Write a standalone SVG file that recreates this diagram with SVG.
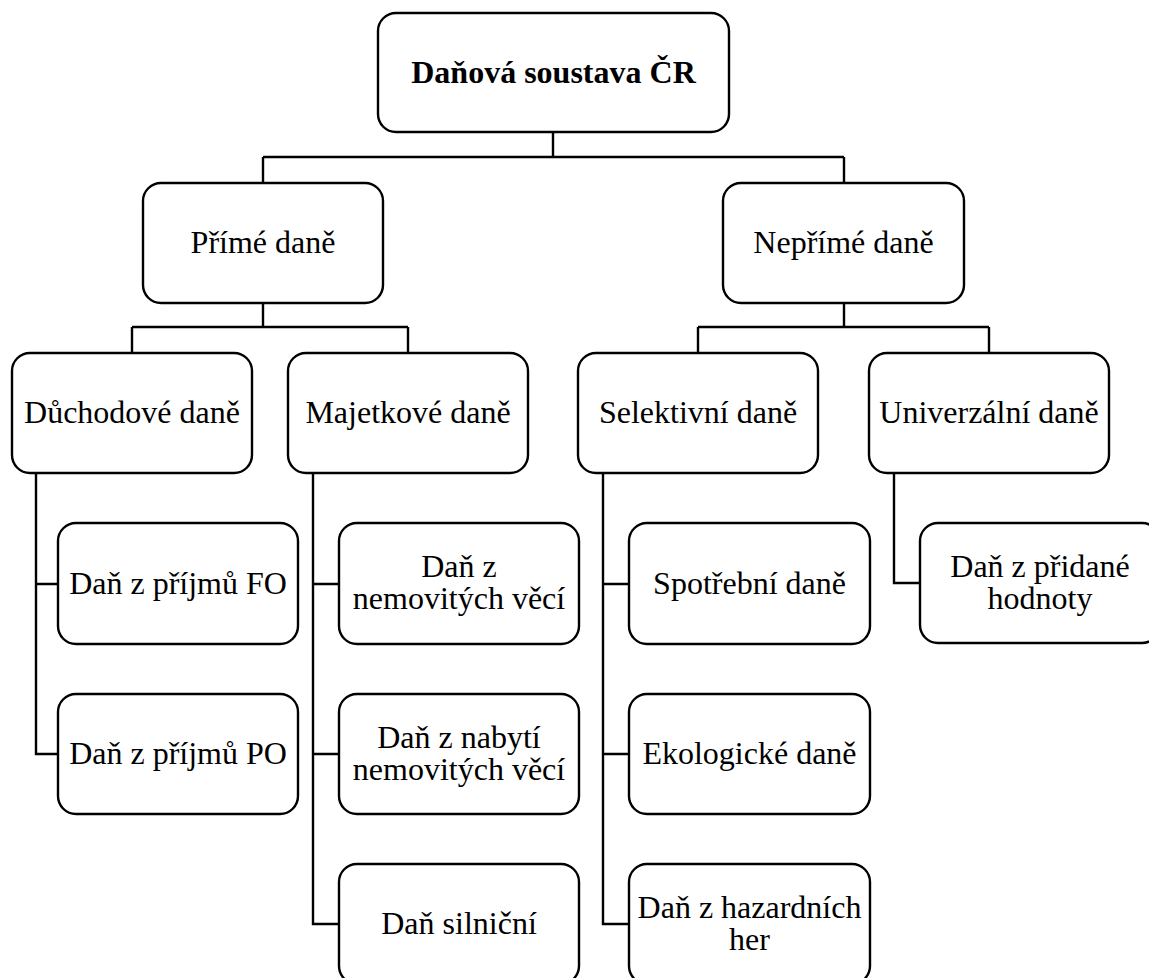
<svg xmlns="http://www.w3.org/2000/svg" width="1149" height="978" viewBox="0 0 1149 978">
<style>
.box{fill:#fff;stroke:#000;stroke-width:2.4}
.t{font-family:"Liberation Serif","Times New Roman",serif;font-size:32px;fill:#000;text-anchor:middle}
.b{font-weight:bold}
.c{fill:none;stroke:#000;stroke-width:2.4}
</style>
<rect width="1149" height="978" fill="#fff"/>
<g id="connectors" class="c">
<path d="M553 132V157M263 157H844M263 157V183M844 157V183"/>
<path d="M263 303V327M132 327H408M132 327V353M408 327V353"/>
<path d="M844 303V327M698 327H989M698 327V353M989 327V353"/>
<path d="M36 473V754H58M36 584H58"/>
<path d="M313 473V924H339M313 584H339M313 754H339"/>
<path d="M603 473V924H629M603 584H629M603 754H629"/>
<path d="M894 473V583H920"/>
</g>
<g id="root"><rect class="box" x="378" y="13" width="351" height="119" rx="18"/><text class="t b" x="553.5" y="83">Daňová soustava ČR</text></g>
<g id="prime"><rect class="box" x="143" y="183" width="240" height="120" rx="18"/><text class="t" x="263" y="253">Přímé daně</text></g>
<g id="neprime"><rect class="box" x="723" y="183" width="241" height="120" rx="18"/><text class="t" x="843.5" y="253">Nepřímé daně</text></g>
<g id="duchodove"><rect class="box" x="12" y="353" width="240" height="120" rx="18"/><text class="t" x="132" y="423">Důchodové daně</text></g>
<g id="majetkove"><rect class="box" x="288" y="353" width="240" height="120" rx="18"/><text class="t" x="408" y="423">Majetkové daně</text></g>
<g id="selektivni"><rect class="box" x="578" y="353" width="240" height="120" rx="18"/><text class="t" x="698" y="423">Selektivní daně</text></g>
<g id="univerzalni"><rect class="box" x="869" y="353" width="240" height="120" rx="18"/><text class="t" x="989" y="423">Univerzální daně</text></g>
<g id="fo"><rect class="box" x="58" y="523" width="240" height="121" rx="18"/><text class="t" x="178" y="594">Daň z příjmů FO</text></g>
<g id="po"><rect class="box" x="58" y="694" width="240" height="120" rx="18"/><text class="t" x="178" y="764">Daň z příjmů PO</text></g>
<g id="nemovite"><rect class="box" x="339" y="523" width="240" height="121" rx="18"/><text class="t" x="459" y="577">Daň z<tspan x="459" dy="32">nemovitých věcí</tspan></text></g>
<g id="nabyti"><rect class="box" x="339" y="694" width="240" height="120" rx="18"/><text class="t" x="459" y="748">Daň z nabytí<tspan x="459" dy="32">nemovitých věcí</tspan></text></g>
<g id="silnicni"><rect class="box" x="339" y="864" width="240" height="120" rx="18"/><text class="t" x="459" y="934">Daň silniční</text></g>
<g id="spotrebni"><rect class="box" x="629" y="523" width="241" height="121" rx="18"/><text class="t" x="749.5" y="594">Spotřební daně</text></g>
<g id="ekologicke"><rect class="box" x="629" y="694" width="241" height="120" rx="18"/><text class="t" x="749.5" y="764">Ekologické daně</text></g>
<g id="hazard"><rect class="box" x="629" y="864" width="241" height="120" rx="18"/><text class="t" x="749.5" y="918">Daň z hazardních<tspan x="749.5" dy="32">her</tspan></text></g>
<g id="dph"><rect class="box" x="920" y="523" width="240" height="120" rx="18"/><text class="t" x="1040" y="577">Daň z přidané<tspan x="1040" dy="32">hodnoty</tspan></text></g>
</svg>
